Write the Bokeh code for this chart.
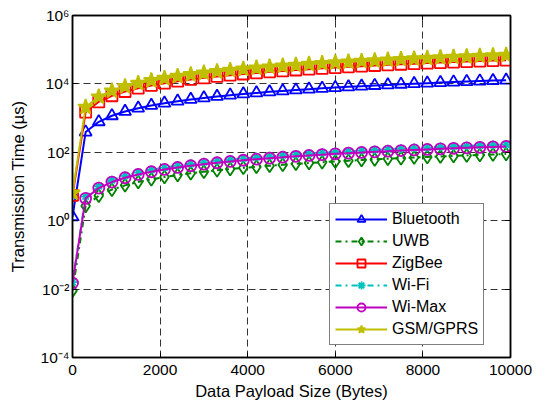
from bokeh.plotting import figure
from bokeh.models import (FixedTicker, CustomJSTickFormatter, LinearAxis, LogAxis,
                          Legend, Range1d)
from bokeh.embed import file_html
from bokeh.resources import INLINE

# ---------------- data ----------------
payload = [0, 300, 600, 900, 1200, 1500, 1800, 2100, 2400, 2700, 3000, 3300,
           3600, 3900, 4200, 4500, 4800, 5100, 5400, 5700, 6000, 6300, 6600,
           6900, 7200, 7500, 7800, 8100, 8400, 8700, 9000, 9300, 9600, 9900]

bluetooth = [1.3, 390, 780, 1170, 1560, 1950, 2340, 2730, 3120, 3510, 3900,
             4290, 4680, 5070, 5460, 5850, 6240, 6630, 7020, 7410, 7800, 8190,
             8580, 8970, 9360, 9750, 10140, 10530, 10920, 11310, 11700, 12090,
             12480, 12870]
uwb = [0.009, 2.7, 5.4, 8.1, 10.8, 13.5, 16.2, 18.9, 21.6, 24.3, 27, 29.7,
       32.4, 35.1, 37.8, 40.5, 43.2, 45.9, 48.6, 51.3, 54, 56.7, 59.4, 62.1,
       64.8, 67.5, 70.2, 72.9, 75.6, 78.3, 81, 83.7, 86.4, 89.1]
zigbee = [5.5, 1500, 3000, 4500, 6000, 7500, 9000, 10500, 12000, 13500, 15000,
          16500, 18000, 19500, 21000, 22500, 24000, 25500, 27000, 28500, 30000,
          31500, 33000, 34500, 36000, 37500, 39000, 40500, 42000, 43500, 45000,
          46500, 48000, 49500]
wifi = [0.016, 5.1, 10.2, 15.3, 20.4, 25.5, 30.6, 35.7, 40.8, 45.9, 51, 56.1,
        61.2, 66.3, 71.4, 76.5, 81.6, 86.7, 91.8, 96.9, 102, 107.1, 112.2,
        117.3, 122.4, 127.5, 132.6, 137.7, 142.8, 147.9, 153, 158.1, 163.2,
        168.3]
wimax = [0.015, 4.5, 9, 13.5, 18, 22.5, 27, 31.5, 36, 40.5, 45, 49.5, 54, 58.5,
         63, 67.5, 72, 76.5, 81, 85.5, 90, 94.5, 99, 103.5, 108, 112.5, 117,
         121.5, 126, 130.5, 135, 139.5, 144, 148.5]
gsm = [6.5, 2100, 4200, 6300, 8400, 10500, 12600, 14700, 16800, 18900, 21000,
       23100, 25200, 27300, 29400, 31500, 33600, 35700, 37800, 39900, 42000,
       44100, 46200, 48300, 50400, 52500, 54600, 56700, 58800, 60900, 63000,
       65100, 67200, 69300]

series_names = ["Bluetooth", "UWB", "ZigBee", "Wi-Fi", "Wi-Max", "GSM/GPRS"]
series_values = [bluetooth, uwb, zigbee, wifi, wimax, gsm]

x_ticks = [0, 2000, 4000, 6000, 8000, 10000]
y_ticks = [1e-4, 1e-2, 1e0, 1e2, 1e4, 1e6]
y_tick_labels = ["10⁻⁴", "10⁻²", "10⁰", "10²", "10⁴", "10⁶"]

# ---------------- styles ----------------
styles = {
    "Bluetooth": dict(color="#0000FF", dash="solid", marker="triangle", size=12, fill=None),
    "UWB": dict(color="#008000", dash="dashdot", marker="diamond", size=13, fill=None),
    "ZigBee": dict(color="#FF0000", dash="solid", marker="square", size=11, fill=None),
    "Wi-Fi": dict(color="#00BFBF", dash="dashdot", marker="asterisk", size=9, fill=None),
    "Wi-Max": dict(color="#BF00BF", dash="solid", marker="circle", size=11, fill=None),
    "GSM/GPRS": dict(color="#BFBF00", dash="solid", marker="star", size=16, fill="#BFBF00"),
}

FONT = "Liberation Sans"

p = figure(frame_width=438, frame_height=342,
           x_range=Range1d(0, 10000), y_range=Range1d(1e-4, 1e6),
           y_axis_type="log", output_backend="svg", toolbar_location=None,
           min_border_left=72, min_border_top=15, min_border_right=27,
           min_border_bottom=46, background_fill_color="white",
           border_fill_color="white")

p.outline_line_color = "black"
p.outline_line_width = 1.5

# grids
for g in (p.xgrid, p.ygrid):
    g.grid_line_color = "#333333"
    g.grid_line_dash = "7 4"
    g.grid_line_width = 1
p.xgrid.ticker = FixedTicker(ticks=x_ticks)
p.ygrid.ticker = FixedTicker(ticks=y_ticks)

# axes
ylab_fmt = CustomJSTickFormatter(args=dict(tvals=y_ticks, tlabels=y_tick_labels), code="""
const i = tvals.findIndex(t => Math.abs(Math.log10(t) - Math.log10(tick)) < 1e-6);
return i >= 0 ? tlabels[i] : '';
""")

for ax in p.xaxis:
    ax.ticker = FixedTicker(ticks=x_ticks)
    ax.axis_label = "Data Payload Size (Bytes)"
    ax.major_label_standoff = 7
    ax.axis_label_standoff = 4
for ax in p.yaxis:
    ax.ticker = FixedTicker(ticks=y_ticks)
    ax.formatter = ylab_fmt
    ax.axis_label = "Transmission Time (µs)"
    ax.major_label_standoff = 3
    ax.axis_label_standoff = 11

blank = CustomJSTickFormatter(code="return '';")
top_ax = LinearAxis(ticker=FixedTicker(ticks=x_ticks), formatter=blank,
                    major_label_standoff=0)
right_ax = LogAxis(ticker=FixedTicker(ticks=y_ticks), formatter=blank,
                   major_label_standoff=0)
p.add_layout(top_ax, "above")
p.add_layout(right_ax, "right")

for ax in p.axis:
    ax.major_tick_in = 5
    ax.major_tick_out = 0
    ax.minor_tick_line_color = None
    ax.axis_line_color = "black"
    ax.axis_line_width = 1.5
    ax.major_tick_line_color = "black"
    ax.major_tick_line_width = 1
    ax.major_label_text_font = FONT
    ax.major_label_text_font_size = "15.5px"
    ax.major_label_text_color = "black"
    ax.axis_label_text_font = FONT
    ax.axis_label_text_font_size = "16.5px"
    ax.axis_label_text_font_style = "normal"
    ax.axis_label_text_color = "black"

# series
items = []
for name, vals in zip(series_names, series_values):
    st = styles[name]
    r_line = p.line(payload, vals, line_color=st["color"], line_width=2,
                    line_dash=st["dash"])
    r_mark = p.scatter(payload, vals, marker=st["marker"], size=st["size"],
                       line_color=st["color"], line_width=1.8,
                       fill_color=st["fill"],
                       fill_alpha=1.0 if st["fill"] else 0.0)
    items.append((name, [r_line, r_mark]))

legend = Legend(items=items, location=(257, 12))
legend.label_text_font = FONT
legend.label_text_font_size = "16px"
legend.label_text_color = "black"
legend.border_line_color = "black"
legend.border_line_width = 1
legend.background_fill_color = "white"
legend.background_fill_alpha = 1.0
legend.padding = 5
legend.spacing = 2
legend.label_height = 20
legend.glyph_height = 20
legend.glyph_width = 52
legend.label_standoff = 5
legend.margin = 0
p.add_layout(legend, "center")

open("out.html", "w").write(file_html(p, INLINE))
